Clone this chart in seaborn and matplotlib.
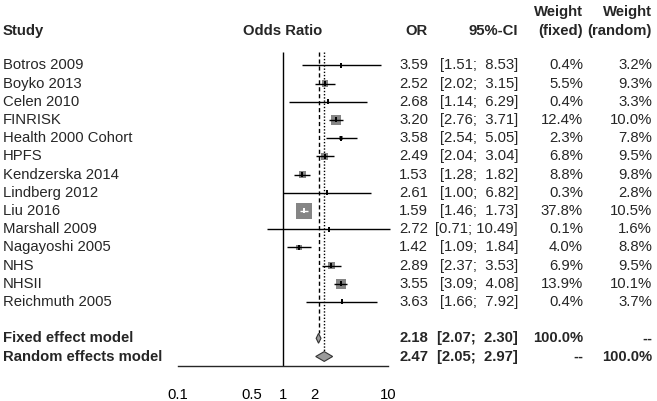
import numpy as np
import pandas as pd
import matplotlib
matplotlib.use("Agg")
import matplotlib.pyplot as plt
import matplotlib.transforms as mtransforms
import seaborn as sns

# data
studies = ["Botros 2009", "Boyko 2013", "Celen 2010", "FINRISK", "Health 2000 Cohort",
           "HPFS", "Kendzerska 2014", "Lindberg 2012", "Liu 2016", "Marshall 2009",
           "Nagayoshi 2005", "NHS", "NHSII", "Reichmuth 2005"]
odds = [3.59, 2.52, 2.68, 3.20, 3.58, 2.49, 1.53, 2.61, 1.59, 2.72, 1.42, 2.89, 3.55, 3.63]
lower = [1.51, 2.02, 1.14, 2.76, 2.54, 2.04, 1.28, 1.00, 1.46, 0.71, 1.09, 2.37, 3.09, 1.66]
upper = [8.53, 3.15, 6.29, 3.71, 5.05, 3.04, 1.82, 6.82, 1.73, 10.49, 1.84, 3.53, 4.08, 7.92]
w_fixed = [0.4, 5.5, 0.4, 12.4, 2.3, 6.8, 8.8, 0.3, 37.8, 0.1, 4.0, 6.9, 13.9, 0.4]
w_random = [3.2, 9.3, 3.3, 10.0, 7.8, 9.5, 9.8, 2.8, 10.5, 1.6, 8.8, 9.5, 10.1, 3.7]

models = ["Fixed effect model", "Random effects model"]
model_or = [2.18, 2.47]
model_lo = [2.07, 2.05]
model_hi = [2.30, 2.97]
model_wf = ["100.0%", "--"]
model_wr = ["--", "100.0%"]

xticks = [0.1, 0.5, 1, 2, 10]

df = pd.DataFrame({"study": studies, "OR": odds, "lo": lower, "hi": upper,
                   "wf": w_fixed, "wr": w_random})
df["row"] = np.arange(len(df))
model_rows = [len(df) + 1, len(df) + 2]

sns.set_style("white")
plt.rcParams['font.family'] = ['Liberation Sans', 'DejaVu Sans']
FS = 10.7

W, H = 657, 401
fig = plt.figure(figsize=(W / 100, H / 100), dpi=100)
ytop, ybot = -0.75, 16.5
ax = fig.add_axes([178 / W, 1 - 365.6 / H, 210 / W, (365.6 - 51.7) / H])
ax.set_xscale("log")
ax.set_xlim(0.1, 10)
ax.set_ylim(ybot, ytop)

# null line and summary lines
ax.vlines(1, ytop, ybot, color="black", lw=1.0)
dh = 0.27
ax.vlines(model_or[0], ytop, model_rows[0] - dh, color="black", lw=1.0,
          linestyles=(0, (3, 2)))
ax.vlines(model_or[1], ytop, model_rows[1] - dh, color="black", lw=1.0,
          linestyles=(0, (1, 1.3)))

# squares sized by fixed-effect weight
smax = (16 * 0.72) ** 2
sns.scatterplot(data=df, x="OR", y="row", size="wf", sizes=(0, smax),
                size_norm=(0, df["wf"].max()), marker="s", color="#858585",
                linewidth=0, legend=False, ax=ax, zorder=2)

# CI lines: white when the whole CI sits inside the square
fig.canvas.draw()
side_px = np.sqrt(df["wf"] / df["wf"].max() * smax) * 100 / 72
for i, r in df.iterrows():
    x0 = ax.transData.transform((r["lo"], 0))[0]
    x1 = ax.transData.transform((r["hi"], 0))[0]
    xc = ax.transData.transform((r["OR"], 0))[0]
    inside = (xc - x0) < side_px[i] / 2 and (x1 - xc) < side_px[i] / 2
    c = "white" if inside else "black"
    ax.hlines(r["row"], r["lo"], r["hi"], color=c, lw=1.0, zorder=3, clip_on=False)
    ax.vlines(r["OR"], r["row"] - 0.14, r["row"] + 0.14, color=c, lw=1.4, zorder=3)

# diamonds
for y, est, lo, hi in zip(model_rows, model_or, model_lo, model_hi):
    ax.fill([lo, est, hi, est, lo], [y, y - dh, y, y + dh, y],
            facecolor="#9a9a9a", edgecolor="#333333", lw=0.8, zorder=3)

for s in ["top", "right", "left"]:
    ax.spines[s].set_visible(False)
ax.spines["bottom"].set_bounds(0.1, 10)
ax.spines["bottom"].set_linewidth(1.0)
ax.set_xticks(xticks)
ax.set_xticklabels([str(t) for t in xticks], fontsize=FS)
ax.xaxis.set_minor_locator(matplotlib.ticker.NullLocator())
ax.tick_params(axis="x", length=2, width=0.8, pad=14, colors="black")
ax.set_yticks([])
ax.set_xlabel("")
ax.set_ylabel("")

# text columns
tr = mtransforms.blended_transform_factory(fig.transFigure, ax.transData)
cols = {"study": 3, "or": 428, "ci": 518, "wf": 583, "wr": 652}


def ci_text(lo, hi):
    return "[{:.2f}; {:5.2f}]".format(lo, hi)


for _, r in df.iterrows():
    y = r["row"]
    ax.text(cols["study"] / W, y, r["study"], transform=tr, fontsize=FS, va="center", ha="left")
    ax.text(cols["or"] / W, y, "%.2f" % r["OR"], transform=tr, fontsize=FS, va="center", ha="right")
    ax.text(cols["ci"] / W, y, ci_text(r["lo"], r["hi"]), transform=tr, fontsize=FS,
            va="center", ha="right")
    ax.text(cols["wf"] / W, y, "%.1f%%" % r["wf"], transform=tr, fontsize=FS, va="center", ha="right")
    ax.text(cols["wr"] / W, y, "%.1f%%" % r["wr"], transform=tr, fontsize=FS, va="center", ha="right")

for i, y in enumerate(model_rows):
    kw = dict(transform=tr, fontsize=FS, va="center", fontweight="bold")
    ax.text(cols["study"] / W, y, models[i], ha="left", **kw)
    ax.text(cols["or"] / W, y, "%.2f" % model_or[i], ha="right", **kw)
    ax.text(cols["ci"] / W, y, ci_text(model_lo[i], model_hi[i]), ha="right", **kw)
    ax.text(cols["wf"] / W, y, model_wf[i], ha="right", **kw)
    ax.text(cols["wr"] / W, y, model_wr[i], ha="right", **kw)

# headers
h2 = 1 - 31 / H
h1 = 1 - 12 / H
hk = dict(fontsize=FS, fontweight="bold", va="center")
fig.text(cols["study"] / W, h2, "Study", ha="left", **hk)
fig.text(283 / W, h2, "Odds Ratio", ha="center", **hk)
fig.text(cols["or"] / W, h2, "OR", ha="right", **hk)
fig.text(cols["ci"] / W, h2, "95%-CI", ha="right", **hk)
fig.text(cols["wf"] / W, h1, "Weight", ha="right", **hk)
fig.text(cols["wf"] / W, h2, "(fixed)", ha="right", **hk)
fig.text(cols["wr"] / W, h1, "Weight", ha="right", **hk)
fig.text(cols["wr"] / W, h2, "(random)", ha="right", **hk)

fig.savefig("out.png", dpi=100)
